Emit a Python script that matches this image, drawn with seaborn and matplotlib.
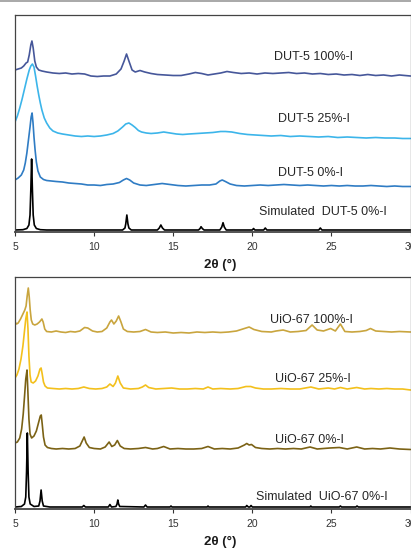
import pandas as pd
import seaborn as sns
import matplotlib.pyplot as plt
from matplotlib.lines import Line2D

# DUT-5 panel, intensities above each trace's own baseline (arb. units)
dut5_100 = [(5.0, 5), (5.2, 6), (5.4, 7), (5.55, 9), (5.7, 12), (5.8, 13), (5.9, 20), (6.0, 30),
            (6.07, 34), (6.15, 27), (6.25, 14), (6.35, 8), (6.5, 5), (6.7, 4), (7.0, 3), (7.4, 2),
            (7.8, 1.5), (8.2, 2), (8.6, 1), (9.0, 1.5), (9.4, 1), (9.8, -1), (10.2, -1.5), (10.6, -1),
            (11.0, -1), (11.4, 1), (11.7, 6), (11.9, 14), (12.05, 21), (12.2, 14), (12.4, 5), (12.6, 3),
            (12.9, 4.5), (13.2, 3), (13.6, 1.5), (14.0, 0.5), (14.5, 0), (15.0, -0.5), (15.5, -0.5),
            (16.0, 1), (16.4, 2.5), (16.8, 1.5), (17.2, 0), (17.6, 1), (18.0, 2), (18.4, 3.5), (18.8, 2.5),
            (19.3, 1.5), (19.8, 2), (20.3, 1), (20.8, 2), (21.3, 1.5), (21.8, 2), (22.3, 2.5), (22.8, 1.5),
            (23.3, 2), (23.8, 1), (24.3, 1.5), (24.8, 0.5), (25.3, 1), (25.8, 0), (26.3, 0.5), (26.8, -0.5),
            (27.3, 0.5), (27.8, -0.5), (28.3, 0), (28.8, -1), (29.3, 0), (30.0, -1)]
dut5_25 = [(5.0, 14), (5.15, 20), (5.3, 28), (5.45, 37), (5.6, 47), (5.75, 57), (5.9, 66), (6.0, 70),
           (6.1, 72), (6.2, 69), (6.3, 60), (6.4, 50), (6.5, 41), (6.6, 33), (6.7, 26), (6.85, 18),
           (7.0, 13), (7.2, 8), (7.4, 5), (7.7, 3), (8.0, 2), (8.4, 1), (8.8, 0), (9.2, -0.5), (9.6, 0),
           (10.0, -0.5), (10.4, 0), (10.8, 1), (11.2, 2.5), (11.5, 5), (11.8, 9), (12.0, 12), (12.2, 13),
           (12.4, 11), (12.6, 8.5), (12.8, 5.5), (13.0, 4), (13.3, 3), (13.6, 2.5), (14.0, 3), (14.4, 4),
           (14.8, 3), (15.2, 2), (15.6, 1.5), (16.0, 2), (16.5, 2.5), (17.0, 3), (17.5, 3.5), (18.0, 4.5),
           (18.3, 4.5), (18.7, 4), (19.2, 2.5), (19.7, 1.5), (20.2, 1), (20.7, 0.5), (21.2, 0), (21.8, 0.5),
           (22.4, -0.5), (23.0, 0), (23.6, -0.5), (24.2, -1), (24.8, -0.5), (25.4, -1.5), (26.0, -1),
           (26.6, -1.5), (27.2, -2), (27.8, -1.5), (28.4, -2), (29.0, -2), (29.5, -2.5), (30.0, -2.5)]
dut5_0 = [(5.0, 5), (5.2, 7), (5.4, 10), (5.55, 15), (5.65, 22), (5.75, 32), (5.85, 45), (5.95, 58),
          (6.02, 68), (6.08, 72), (6.14, 62), (6.2, 48), (6.27, 35), (6.35, 23), (6.45, 14), (6.6, 8),
          (6.8, 5.5), (7.0, 4.5), (7.3, 4), (7.6, 3.5), (8.0, 3), (8.4, 2), (8.8, 1.5), (9.2, 1), (9.6, 0),
          (10.0, 0), (10.4, -0.5), (10.8, 0.5), (11.2, 1), (11.6, 2.5), (11.85, 5), (12.05, 6.5),
          (12.25, 5), (12.5, 2), (12.9, 0), (13.3, -0.5), (13.8, 0.5), (14.3, 1.5), (14.8, 0.5),
          (15.3, -0.5), (15.8, -1), (16.3, -0.5), (16.8, 0), (17.3, 0), (17.7, 1), (17.95, 4), (18.1, 5),
          (18.3, 3.5), (18.6, 1), (19.0, -0.5), (19.5, -1), (20.0, -0.5), (20.5, 0), (21.0, -0.5),
          (21.5, 0), (22.0, 0.5), (22.5, 0), (23.0, -0.5), (23.5, 0), (24.0, -0.5), (24.5, -1), (25.0, -0.5),
          (25.5, -1), (26.0, -0.5), (26.5, -1), (27.0, -1), (27.5, -0.5), (28.0, -1), (28.5, -1.5),
          (29.0, -1), (29.5, -1.5), (30.0, -1.5)]
dut5_sim = [(5.0, 0), (5.5, 0.3), (5.75, 1.5), (5.88, 5), (5.95, 15), (6.0, 40), (6.05, 71), (6.1, 40),
            (6.15, 15), (6.22, 5), (6.35, 1.5), (6.6, 0.3), (7.0, 0), (11.8, 0), (11.95, 2), (12.0, 6),
            (12.07, 15), (12.14, 6), (12.2, 2), (12.35, 0), (14.0, 0), (14.12, 2), (14.22, 5), (14.32, 2),
            (14.45, 0), (16.6, 0), (16.7, 1.5), (16.76, 3.3), (16.84, 1.5), (16.95, 0), (17.95, 0),
            (18.07, 3), (18.15, 7.3), (18.23, 3), (18.35, 0), (20.0, 0), (20.08, 1.5), (20.16, 0),
            (20.72, 0), (20.82, 2), (20.92, 0), (24.2, 0), (24.3, 2), (24.4, 0), (30.0, 0)]
dut5_offsets = [157, 96, 47, 2]

# UiO-67 panel
uio_100 = [(5.0, 10), (5.1, 8), (5.2, 9), (5.35, 13), (5.5, 18), (5.62, 22), (5.7, 26), (5.77, 36),
           (5.84, 44), (5.9, 35), (5.96, 22), (6.03, 12), (6.12, 8), (6.25, 7), (6.4, 8), (6.55, 10),
           (6.7, 13), (6.78, 10), (6.88, 3), (7.0, 0.5), (7.3, 0), (7.6, 1), (7.9, 0), (8.2, -0.5),
           (8.5, 0.5), (8.8, 0), (9.1, 1), (9.4, 4.5), (9.6, 4), (9.9, 1), (10.2, 0), (10.5, 0.5),
           (10.8, 4), (11.0, 10), (11.1, 12), (11.25, 8), (11.4, 11), (11.55, 16), (11.7, 10), (11.85, 3),
           (12.1, 0.5), (12.5, 0), (12.9, 0.5), (13.25, 2.5), (13.6, 0), (14.0, -0.5), (14.5, 0),
           (15.0, -1), (15.5, -0.5), (16.0, -1), (16.5, 0), (17.0, -0.5), (17.5, 0), (18.0, -0.5),
           (18.5, 0), (19.0, 1), (19.5, 3.5), (19.8, 5), (20.1, 2.5), (20.6, 0.5), (21.2, 0), (21.5, 1),
           (21.95, 2), (22.4, 0), (22.9, 0.5), (23.4, 1.5), (23.78, 7), (24.1, 2), (24.5, 1), (24.95, 3.5),
           (25.25, 1), (25.57, 8), (25.85, 0.5), (26.3, 0), (26.8, 0.5), (27.2, 1.5), (27.47, 3.5),
           (27.8, 1), (28.3, 0.5), (28.8, 0), (29.3, 0.5), (30.0, 0)]
uio_25 = [(5.0, 11), (5.12, 14), (5.25, 20), (5.38, 30), (5.5, 43), (5.6, 58), (5.68, 70), (5.76, 77),
          (5.82, 60), (5.88, 33), (5.95, 14), (6.02, 7), (6.15, 6), (6.3, 8), (6.45, 13), (6.58, 20),
          (6.65, 21), (6.72, 15), (6.8, 7), (6.9, 3), (7.05, 1), (7.4, 0.5), (7.8, 0), (8.2, 0.5), (8.6, 0),
          (9.0, 0.5), (9.35, 2), (9.7, 0.5), (10.1, 0), (10.5, 0.5), (10.8, 2), (11.0, 5), (11.2, 2.5),
          (11.35, 6), (11.5, 13), (11.65, 6), (11.85, 1), (12.3, 0), (12.8, 0.5), (13.05, 2), (13.25, 4),
          (13.45, 1.5), (13.9, 0), (14.4, 0.5), (14.9, 1), (15.4, 0), (15.9, 0), (16.4, 0.5), (16.9, 0),
          (17.2, 2), (17.5, 0), (18.0, 0.5), (18.6, 0), (19.1, 0.5), (19.6, 2.5), (19.9, 2.5), (20.2, 1),
          (20.7, 0), (21.2, 0), (21.8, 0.5), (22.4, 0), (23.0, 0), (23.7, 2), (24.2, 0), (24.8, 1),
          (25.2, 0), (25.57, 1.5), (26.0, 0), (26.6, 1.5), (27.1, 0), (27.5, 0.5), (28.0, 0), (28.5, 0.5),
          (29.0, 0), (29.5, 0), (30.0, -1)]
uio_0 = [(5.0, 6), (5.15, 7), (5.3, 11), (5.42, 20), (5.52, 35), (5.6, 52), (5.68, 70), (5.76, 79),
         (5.82, 55), (5.88, 30), (5.95, 15), (6.05, 11), (6.2, 13), (6.35, 18), (6.5, 27), (6.6, 33),
         (6.66, 34), (6.72, 25), (6.8, 12), (6.9, 4), (7.05, 1.5), (7.3, 0.5), (7.6, 0), (8.0, 0.5),
         (8.4, 0), (8.8, 0.5), (9.1, 3), (9.25, 8), (9.37, 12), (9.5, 6), (9.7, 1.5), (10.0, 0.5),
         (10.4, 0), (10.7, 2), (10.95, 7), (11.12, 2.5), (11.3, 4), (11.47, 8.5), (11.65, 3), (11.9, 0.5),
         (12.3, 0), (12.8, 0.5), (13.25, 1.5), (13.7, 0), (14.0, 0.5), (14.4, 2.5), (14.8, 0), (15.3, 0.5),
         (15.8, 0), (16.3, 0), (16.8, 0.5), (17.2, 2.5), (17.6, 0), (18.1, 0.5), (18.6, 0), (19.1, 1),
         (19.5, 4), (19.65, 5.5), (19.8, 4), (19.95, 4.5), (20.2, 1.5), (20.6, 0.5), (21.1, 0), (21.6, 0.5),
         (22.1, 0), (22.6, 0.5), (23.1, 0), (23.65, 2), (24.1, 0), (24.9, 1), (25.5, 1.5), (26.0, 0),
         (26.6, 2), (27.1, 0), (27.6, 0.5), (28.1, 0), (28.7, 1), (29.3, 0), (30.0, -0.5)]
uio_sim = [(5.0, 0), (5.4, 0.5), (5.6, 3), (5.68, 10), (5.73, 35), (5.78, 74), (5.83, 35), (5.88, 10),
           (5.96, 3), (6.2, 0.5), (6.5, 1), (6.58, 6), (6.65, 17), (6.72, 6), (6.8, 1), (7.2, 0),
           (9.25, 0), (9.35, 1.5), (9.45, 0), (10.9, 0), (11.0, 2.5), (11.1, 0), (11.38, 0.5), (11.45, 3),
           (11.5, 7), (11.55, 3), (11.62, 0.5), (13.15, 0), (13.25, 2), (13.35, 0), (14.8, 0), (14.86, 1),
           (14.92, 0), (17.15, 0), (17.2, 1), (17.25, 0), (19.58, 0), (19.65, 1.5), (19.75, 0), (19.85, 0),
           (19.92, 1.5), (20.0, 0), (23.65, 0), (23.7, 1), (23.75, 0), (25.5, 0), (25.57, 1), (25.64, 0),
           (26.55, 0), (26.62, 1), (26.7, 0), (30.0, 0)]
uio_offsets = [177, 120, 60, 2]

dut5_names = ["DUT-5 100%-I", "DUT-5 25%-I", "DUT-5 0%-I", "Simulated  DUT-5 0%-I"]
uio_names = ["UiO-67 100%-I", "UiO-67 25%-I", "UiO-67 0%-I", "Simulated  UiO-67 0%-I"]
dut5_colors = ["#46579a", "#3cb5ea", "#2f7cc4", "#000000"]
uio_colors = ["#c9a53e", "#f3c01c", "#7b6215", "#000000"]


def stack(curves, offsets, names):
    frames = []
    for pts, off, name in zip(curves, offsets, names):
        d = pd.DataFrame(pts, columns=["two_theta", "intensity"])
        d["intensity"] += off
        d["sample"] = name
        frames.append(d)
    return pd.concat(frames, ignore_index=True)


sns.set_theme(style="ticks")
plt.rcParams["font.family"] = ["Liberation Sans", "DejaVu Sans"]

fig = plt.figure(figsize=(4.11, 5.48), dpi=100)
ax1 = fig.add_axes([15 / 411, 1 - 232 / 548, 395.5 / 411, 217 / 548])
ax2 = fig.add_axes([15 / 411, 1 - 509 / 548, 395.5 / 411, 232 / 548])

panels = [
    (ax1, [dut5_100, dut5_25, dut5_0, dut5_sim], dut5_offsets, dut5_names, dut5_colors, 217,
     [(21.39, 175), (21.65, 113), (21.65, 59), (20.4, 19.5)]),
    (ax2, [uio_100, uio_25, uio_0, uio_sim], uio_offsets, uio_names, uio_colors, 232,
     [(21.14, 189), (21.46, 130), (21.46, 69), (20.25, 12.5)]),
]

for ax, curves, offsets, names, colors, ytop, label_pos in panels:
    df = stack(curves, offsets, names)
    sns.lineplot(data=df, x="two_theta", y="intensity", hue="sample", hue_order=names,
                 palette=colors, sort=False, estimator=None, legend=False, linewidth=1.2, ax=ax)
    for (tx, ty), name in zip(label_pos, names):
        ax.text(tx, ty, name, fontsize=9, color="#262626", va="center", ha="left")
    ax.set_xlim(5, 30)
    ax.set_ylim(0, ytop)
    ax.set_xticks([5, 10, 15, 20, 25, 30])
    ax.set_yticks([])
    ax.set_ylabel("")
    ax.set_xlabel("2θ (°)", fontsize=9.5, fontweight="bold", color="#1a1a1a")
    ax.xaxis.set_label_coords(0.52, -0.125 if ax is ax1 else -0.115)
    ax.tick_params(axis="x", direction="out", length=3, width=0.8, labelsize=7.5, pad=4,
                   colors="#333333")
    for s in ax.spines.values():
        s.set_visible(True)
        s.set_color("#444444")
        s.set_linewidth(0.9)
    ax.spines["bottom"].set_linewidth(1.3)

fig.add_artist(Line2D([0, 1], [0.998, 0.998], color="#9a9a9a", linewidth=1.2,
                      transform=fig.transFigure))

fig.savefig("out.png", dpi=100)
